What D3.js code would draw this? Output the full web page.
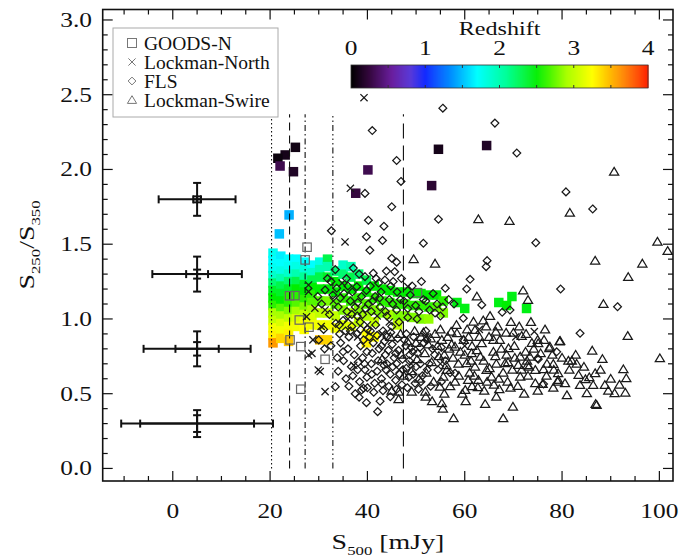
<!DOCTYPE html>
<html><head><meta charset="utf-8">
<script src="https://cdn.jsdelivr.net/npm/d3@7"></script>
<style>body{margin:0;background:#fff}svg{display:block}text{font-family:"Liberation Serif","DejaVu Serif",serif;fill:#111}</style>
</head><body><svg id="c" width="681" height="558"></svg>
<script>
// ---------- data ----------
const xTicks=[0,20,40,60,80,100];
const yTicks=[0,0.5,1.0,1.5,2.0,2.5,3.0];
const zTicks=[0,1,2,3,4];
const legendLabels=["GOODS-N","Lockman-North","FLS","Lockman-Swire"];
const refLines=[20.3,24.0,27.2,32.9,47.4];
const refTop=2.37;
const errX=[5,5,5,5];
const errY=[1.8,1.3,0.8,0.3];
const errOuterX=[7.9,9.2,11.0,15.6];
const errInnerX=[0.8,2.25,4.45,11.7];
const errOuterY=[0.11,0.117,0.117,0.09];
const errInnerY=[0.02,0.03,0.045,0.056];
const zStops=[0,0.25,0.55,0.8,1.0,1.35,1.7,2.1,2.5,2.9,3.25,3.6,4.0];
const zColors=["#000000","#36083f","#6a1f9e","#5a3ad8","#0a22ff","#0090ff","#00ffff","#00ff96","#00ee00","#a8ff00","#ffff00","#ff9a00","#ff2000"];
// GOODS-N with redshift [S500, ratio, z]
const goodsZ=[
[25.2,2.148,0.08],[23.1,2.097,0.1],[21.6,2.075,0.05],[22.05,2.023,0.3],[24.8,1.985,0.15],[40.1,1.997,0.3],[37.6,1.841,0.25],[54.6,2.135,0.1],[64.5,2.16,0.15],[53.2,1.892,0.2],
[23.9,1.696,1.45],[21.9,1.569,1.5],
[20.6,1.44,1.75],[20.6,1.39,1.7],[20.6,1.34,1.75],[20.6,1.29,1.9],[20.6,1.24,2.2],[20.6,1.19,2.4],[20.6,1.14,2.5],[20.6,1.09,2.6],[20.6,1.04,2.9],[20.6,0.99,3.0],[20.6,0.94,3.2],[20.6,0.89,3.3],[20.6,0.84,3.6],
[22.2,1.42,1.65],[22.2,1.37,1.7],[22.2,1.32,1.8],[22.2,1.27,2.0],[22.2,1.22,2.3],[22.2,1.17,2.4],[22.2,1.12,2.5],[22.2,1.07,2.7],[22.2,1.02,2.9],[22.2,0.97,3.1],[22.2,0.92,3.2],[22.2,0.87,3.4],
[23.8,1.40,1.7],[23.8,1.35,1.75],[23.8,1.30,1.9],[23.8,1.25,2.2],[23.8,1.20,2.4],[23.8,1.15,2.6],[23.8,1.10,2.6],[23.8,1.05,2.8],[23.8,1.00,3.0],[23.8,0.95,3.2],[23.8,0.90,3.3],[23.8,0.85,3.45],
[25.4,1.40,1.7],[25.4,1.35,1.8],[25.4,1.30,2.0],[25.4,1.25,2.3],[25.4,1.20,2.5],[25.4,1.15,2.6],[25.4,1.10,2.7],[25.4,1.05,2.9],[25.4,1.00,3.1],[25.4,0.95,3.2],
[27.0,1.38,1.7],[27.0,1.33,1.85],[27.0,1.28,2.1],[27.0,1.23,2.4],[27.0,1.18,2.5],[27.0,1.13,2.6],[27.0,1.08,2.8],[27.0,1.03,3.0],[27.0,0.98,3.2],[27.0,0.93,3.25],
[28.6,1.36,1.7],[28.6,1.31,1.9],[28.6,1.26,2.3],[28.6,1.21,2.5],[28.6,1.16,2.6],[28.6,1.11,2.7],[28.6,1.06,2.9],[28.6,1.01,3.1],[28.6,0.96,3.2],
[30.2,1.38,1.8],[30.2,1.33,2.0],[30.2,1.28,2.3],[30.2,1.20,2.5],[30.2,1.12,2.7],[30.2,1.04,3.0],[30.2,0.96,3.2],[30.2,0.86,3.45],
[31.8,1.40,2.3],[31.8,1.35,2.0],[31.8,1.28,2.4],[31.8,1.20,2.5],[31.8,1.12,2.8],[31.8,1.04,3.0],[31.8,0.96,3.2],[31.8,0.86,3.4],
[33.4,1.32,2.2],[33.4,1.25,2.5],[33.4,1.18,2.5],[33.4,1.10,2.7],[33.4,1.02,3.0],[33.4,0.94,3.2],
[35.0,1.36,1.9],[35.0,1.30,2.2],[35.0,1.22,2.5],[35.0,1.14,2.6],[35.0,1.06,2.8],[35.0,0.96,3.1],
[36.6,1.35,2.0],[36.6,1.28,2.3],[36.6,1.20,2.5],[36.6,1.12,2.6],[36.6,1.04,2.9],[36.6,0.95,3.15],
[38.2,1.30,2.2],[38.2,1.22,2.5],[38.2,1.14,2.6],[38.2,1.06,2.8],[38.2,0.98,3.0],
[39.8,1.26,2.3],[39.8,1.18,2.5],[39.8,1.10,2.7],[39.8,1.02,2.9],[39.8,0.90,3.25],[39.8,0.84,3.3],
[41.4,1.22,2.5],[41.4,1.14,2.6],[41.4,1.06,2.8],[41.4,0.98,3.0],[41.4,0.88,3.25],
[43.0,1.20,2.5],[43.0,1.12,2.6],[43.0,1.04,2.8],
[44.6,1.19,2.5],[44.6,1.11,2.6],[44.6,1.03,2.9],
[46.2,1.18,2.5],[46.2,1.10,2.6],[46.2,1.02,2.8],[46.2,0.96,3.0],
[47.8,1.18,2.5],[47.8,1.10,2.6],[47.8,1.02,2.8],
[49.4,1.17,2.5],[49.4,1.09,2.6],[49.4,1.01,2.8],
[51.0,1.17,2.5],[51.0,1.09,2.6],[51.0,1.00,2.8],
[52.6,1.16,2.5],[52.6,1.08,2.6],[52.6,1.00,2.85],
[54.2,1.16,2.5],[54.2,1.08,2.7],[55.6,1.12,2.6],[55.6,1.04,2.8],
[58.4,1.11,2.45],[60.0,1.07,2.45],[67.0,1.11,2.45],[69.7,1.15,2.45],[68.6,1.09,2.5],[72.7,1.07,2.45]
];
// GOODS-N without redshift (open squares)
const goodsOpen=[[27.6,1.48],[27.2,1.395],[24.0,1.155],[25.1,1.156],[26.0,0.993],[28.0,0.945],[24.1,0.86],[26.3,0.815],[31.3,0.73],[26.3,0.53],[50.3,1.176]];
// Lockman-North (crosses)
const lnCross=[[39.3,2.48],[36.5,1.874],[35.4,1.515],[27.9,1.227],[27.5,1.015],[30.3,0.648],[31.3,0.514],[29.9,0.659],[28.6,0.77],[27.9,0.759],[29.2,1.072],[31.3,1.06],[27.9,1.183],[48.3,1.216],[74.3,0.915],[33.0,1.12],[36.0,1.00],[38.0,0.88],[42.0,1.02],[44.5,0.98],[30.5,0.95],[34.8,1.24],[46.5,0.66],[52.0,0.88],[28.8,0.86],
[40.0,0.96],[43.0,0.90],[37.2,0.69],[49.0,0.70],[55.0,0.70],[60.0,0.82],[63.0,0.93],[70.5,0.88]];
// FLS (diamonds)
const flsDiamond=[
[55.5,2.41],[41.0,2.26],[66.2,2.31],[70.7,2.11],[46.0,2.06],[46.9,1.92],[80.8,1.85],[39.5,1.84],[45.0,1.75],[40.2,1.66],[43.4,1.62],[54.6,1.667],[32.6,1.59],[39.8,1.55],[43.1,1.525],[74.6,1.51],[86.3,1.736],[40.5,1.46],[51.5,1.506],[64.6,1.39],[64.4,1.35],[45.0,1.406],[46.0,1.38],[45.6,1.316],[51.1,1.25],[56.0,1.205],[60.4,1.2],[61.1,1.265],[79.7,1.2],[63.5,1.094],[67.7,1.045],[69.3,1.06],[91.4,1.082],[59.7,1.005],[83.7,0.904],[78.9,0.78],[75.0,0.737],[76.2,0.565],[75.1,0.73],[59.7,0.86],[58.0,0.637],[42.1,0.38],[39.8,0.44],[38.8,0.525],[38.3,0.476],[43.0,0.565],[33.4,0.547],[39.2,0.536],
[33.4,1.33],[37.1,1.34],[39.5,1.283],[41.2,1.306],[43.6,1.26],[42.3,1.24],[45.3,1.25],[33.7,1.205],[31.3,1.194],[37.8,1.216],[41.6,1.15],[35.2,1.17],[36.5,1.12],[38.8,1.15],[40.2,1.10],[42.8,1.18],[44.5,1.13],[34.0,1.08],[35.8,1.05],[37.5,1.08],[39.0,1.03],[40.8,1.05],[42.6,1.08],[44.0,1.02],[46.0,1.06],[47.5,1.12],[48.8,1.16],[49.9,1.09],[51.5,1.13],[52.8,1.06],[54.3,1.10],[30.6,1.10],[32.2,1.03],[33.5,0.97],[35.0,0.99],[36.8,0.95],[38.5,0.98],[40.0,0.93],[41.7,0.96],[43.2,0.92],[45.0,0.95],[46.5,0.98],[48.3,1.01],[50.2,1.00],[31.0,0.93],[34.3,0.90],[36.2,0.88],[29.8,1.15],[32.5,1.25],[35.7,1.27],[38.3,1.30],[40.6,1.22],[43.9,1.32],[47.0,1.27],[49.2,1.22],[53.5,1.17],[55.0,1.02],[56.7,1.13],
[34.5,0.84],[36.0,0.80],[37.3,0.76],[38.6,0.82],[39.9,0.78],[41.2,0.84],[42.4,0.80],[43.7,0.76],[45.1,0.83],[46.4,0.79],[47.6,0.86],[49.0,0.81],[50.3,0.77],[51.6,0.84],[35.1,0.72],[36.7,0.68],[38.1,0.71],[39.5,0.66],[40.8,0.70],[42.0,0.65],[43.4,0.69],[44.7,0.63],[46.0,0.70],[47.3,0.66],[48.6,0.72],[50.0,0.68],[51.3,0.62],[52.7,0.70],[37.0,0.62],[38.4,0.58],[39.9,0.61],[41.5,0.57],[42.9,0.60],[44.4,0.55],[45.8,0.59],[47.1,0.56],[48.5,0.61],[49.8,0.57],[53.8,0.76],[55.2,0.81],[54.5,0.66],[56.0,0.72],[34.0,0.65],[35.6,0.60],[40.4,0.88],[44.0,0.88],[48.0,0.90],[52.0,0.92],[36.5,0.92],[39.0,0.74],[45.5,0.74],[49.5,0.88],
[37.8,0.90],[39.2,0.86],[40.6,0.92],[42.0,0.89],[43.5,0.85],[44.8,0.91],[46.2,0.87],[47.9,0.82],[49.3,0.78],[50.8,0.81],[52.2,0.86],[53.4,0.80],[38.0,0.66],[39.4,0.70],[40.9,0.63],[42.2,0.72],[43.8,0.66],[45.2,0.68],[46.6,0.63],[48.0,0.67],[49.4,0.63],[50.9,0.70],[52.3,0.66],[41.0,0.77],[42.9,0.82],[44.3,0.79],[45.8,0.77],[47.2,0.73],[48.7,0.76],[40.0,0.54],[41.3,0.51],[43.2,0.52],[46.0,0.53],[48.2,0.54],[50.5,0.53],[36.2,0.55],[37.5,0.50],[35.0,0.78],[33.8,0.74],[32.5,0.82],[31.2,0.80],[30.0,0.86],[34.2,0.96],[35.5,0.92],[37.9,1.02],[39.6,1.07],[41.1,1.12],[42.5,1.14],[43.7,1.05],[45.2,1.10],[46.8,1.13],[48.3,1.07],[36.9,1.18],[38.0,1.11],[39.8,1.19],[41.8,1.27],[44.8,1.22],[46.1,1.18],[34.4,1.14],[32.9,1.16],[31.8,1.27],[36.0,1.22],[50.6,1.05],[52.0,1.12],[53.9,1.04],[55.5,1.08],[57.8,1.10],[44.0,0.70],[51.0,0.58],[53.0,0.55],[55.2,0.58],[57.0,0.64],[42.6,0.45],[44.7,0.48],[36.8,1.03],[38.6,0.93]
];
// Lockman-Swire (triangles)
const swireTri=[
[90.7,1.985],[81.6,1.71],[62.8,1.667],[69.2,1.655],[99.6,1.517],[101.7,1.455],[86.8,1.39],[96.5,1.37],[93.6,1.28],[49.5,1.40],[53.9,1.37],[88.5,1.10],[73.0,1.127],[72.0,1.19],[62.5,1.15],[65.2,1.02],[93.5,0.886],[79.6,0.853],[86.2,0.788],[88.3,0.732],[100.1,0.737],[82.0,0.721],[81.3,0.721],[92.6,0.663],[93.2,0.603],[86.8,0.637],[83.4,0.625],[84.8,0.597],[79.2,0.637],[79.2,0.592],[80.6,0.57],[83.7,0.558],[86.4,0.558],[88.8,0.558],[85.1,0.503],[81.0,0.49],[87.1,0.425],[90.8,0.503],[93.0,0.507],[76.2,0.663],[74.5,0.57],[74.5,0.659],[73.2,0.68],[77.5,0.815],[73.4,0.748],[75.0,0.86],[57.7,0.336],[67.9,0.336],[55.5,0.40],[69.9,0.413],[64.2,0.431],[46.4,0.463],[46.4,0.514],[51.9,0.514],[49.1,0.514],[54.9,0.547],[60.1,0.525],[62.7,0.543],[67.1,0.53],[70.9,0.552],[76.0,0.565],[79.1,0.58],[78.2,0.699],[71.4,0.748],[71.0,0.692],[67.9,0.641],[71.4,0.614],[65.9,0.86],[63.5,0.837],[66.4,0.915],[65.9,0.78],[69.0,0.804],[71.7,0.886],[72.6,0.90],[75.1,0.837],[77.4,0.804],[68.3,0.704],[63.2,0.748],[61.4,0.77],[60.4,0.704],[62.1,0.681],[64.5,0.659],[65.5,0.614],[62.8,0.592],[60.7,0.592],[55.6,0.614],[56.3,0.659],[58.0,0.815],[58.4,0.904],[62.1,0.926],[57.2,0.915],[61.8,0.982],[70.0,0.908],[68.5,0.908],[76.3,0.86],[79.5,0.85],[55.3,0.436],[86.9,0.431],
[46.8,0.90],[48.2,0.85],[49.7,0.92],[51.0,0.88],[52.5,0.83],[53.9,0.90],[55.3,0.86],[56.8,0.80],[50.2,0.73],[51.8,0.77],[53.2,0.71],[54.7,0.75],[56.2,0.69],[57.6,0.74],[59.1,0.78],[49.0,0.65],[50.6,0.60],[52.1,0.64],[53.6,0.58],[58.8,0.62],[59.8,0.86],[60.5,0.93],[61.5,0.82],[63.0,0.88],[64.4,0.95],[67.2,0.86],[68.6,0.76],[70.2,0.82],[72.5,0.78],[73.8,0.84],[66.5,0.70],[69.8,0.66],[72.8,0.72],[57.0,0.55],[59.5,0.50],[64.0,0.52],[66.0,0.56],[68.8,0.58],[73.0,0.62],[76.8,0.62],[78.0,0.76],[82.8,0.76],[84.5,0.68],[90.0,0.60],[44.7,0.88],[43.0,0.73],[47.5,0.62],[45.0,0.52],[60.2,0.45],[52.0,0.48],[47.0,0.76],[55.0,0.93],[65.0,0.88],[61.0,0.64],
[50.0,0.84],[51.5,0.91],[53.0,0.87],[54.4,0.82],[55.8,0.76],[57.3,0.83],[58.7,0.70],[60.0,0.76],[61.3,0.72],[62.5,0.79],[63.9,0.72],[65.1,0.67],[66.3,0.75],[67.5,0.80],[68.9,0.71],[70.3,0.74],[71.7,0.66],[72.9,0.69],[74.2,0.80],[75.6,0.77],[76.9,0.70],[78.3,0.66],[80.0,0.74],[81.5,0.66],[83.0,0.70],[85.6,0.61],[87.9,0.66],[89.5,0.52],[91.8,0.56],[56.5,0.88],[58.3,0.96],[60.8,0.88],[63.8,0.99],[66.8,0.95],[69.5,0.98],[71.2,0.95],[73.6,0.98],[76.5,0.93],[62.0,0.62],[64.6,0.58],[67.0,0.60],[69.4,0.54],[72.2,0.50],[75.0,0.52],[78.2,0.54],[58.0,0.58],[55.8,0.50],[53.3,0.45],[61.5,0.55],[66.5,0.48]
];

// ---------- drawing ----------
const svg=d3.select("#c");
const L=102.7,R=673,T=9.5,B=481;
const x=d3.scaleLinear().domain([-14.4,102.8]).range([L,R]);
const y=d3.scaleLinear().domain([-0.084,3.07]).range([B,T]);
const zc=d3.scaleLinear().domain(zStops).range(zColors).clamp(true);
const zx=d3.scaleLinear().domain([0,4]).range([351,648]);
const SX=1.27;

function stxt(g,px,py,parts,size,anchor,rot){
  const gg=g.append("g").attr("transform",`translate(${px},${py})`+(rot?` rotate(${rot})`:"")+` scale(${SX},1)`);
  const t=gg.append("text").attr("text-anchor",anchor||"middle").attr("font-size",size);
  parts.forEach(p=>{
    const ts=t.append("tspan").text(p.t);
    if(p.sub){ts.attr("font-size",size*0.6).attr("dy",size*0.25);}
    else if(p.back){ts.attr("dy",-size*0.25);}
  });
  return gg;
}

const plot=svg.append("g");
plot.append("clipPath").attr("id","clip").append("rect").attr("x",L).attr("y",T).attr("width",R-L).attr("height",B-T);

// coloured squares
const sq=9.5;
plot.append("g").attr("clip-path","url(#clip)").selectAll("rect").data(goodsZ).join("rect")
  .attr("x",d=>x(d[0])-sq/2).attr("y",d=>y(d[1])-sq/2).attr("width",sq).attr("height",sq)
  .attr("fill",d=>zc(d[2]));

// reference vertical lines
const dashes=["1.5,2.5","8,5","6,3,1.5,3","6,3,1.5,3,1.5,3,1.5,3","15,7"];
plot.append("g").selectAll("line").data(refLines).join("line")
  .attr("x1",d=>x(d)).attr("x2",d=>x(d)).attr("y1",y(0)).attr("y2",y(refTop))
  .attr("stroke","#111").attr("stroke-width",1.1).attr("stroke-dasharray",(d,i)=>dashes[i]);

// open squares
plot.append("g").selectAll("rect").data(goodsOpen).join("rect")
  .attr("x",d=>x(d[0])-4.2).attr("y",d=>y(d[1])-4.2).attr("width",8.4).attr("height",8.4)
  .attr("fill","none").attr("stroke","#666").attr("stroke-width",1.2);

const symG=plot.append("g").attr("clip-path","url(#clip)").attr("fill","none").attr("stroke","#1a1a1a").attr("stroke-width",1.25);
const diamondP="M0,-3.9L3.9,0L0,3.9L-3.9,0Z";
const triP="M0,-4.3L4.6,3.4L-4.6,3.4Z";
const crossP="M-3.6,-3.6L3.6,3.6M-3.6,3.6L3.6,-3.6";
symG.selectAll(".dm").data(flsDiamond).join("path").attr("class","dm").attr("d",diamondP)
  .attr("transform",d=>`translate(${x(d[0])},${y(d[1])})`);
symG.selectAll(".tr").data(swireTri).join("path").attr("class","tr").attr("d",triP)
  .attr("transform",d=>`translate(${x(d[0])},${y(d[1])})`);
symG.selectAll(".cr").data(lnCross).join("path").attr("class","cr").attr("d",crossP)
  .attr("transform",d=>`translate(${x(d[0])},${y(d[1])})`);

// error bars
const eb=plot.append("g").attr("stroke","#111").attr("stroke-width",2);
errY.forEach((cy,i)=>{
  const cx=errX[i];
  const X=x(cx),Y=y(cy);
  [errOuterX[i],errInnerX[i]].forEach(e=>{
    eb.append("line").attr("x1",x(cx-e)).attr("x2",x(cx+e)).attr("y1",Y).attr("y2",Y);
    [cx-e,cx+e].forEach(v=>eb.append("line").attr("x1",x(v)).attr("x2",x(v)).attr("y1",Y-4).attr("y2",Y+4));
  });
  [errOuterY[i],errInnerY[i]].forEach(e=>{
    eb.append("line").attr("x1",X).attr("x2",X).attr("y1",y(cy-e)).attr("y2",y(cy+e));
    [cy-e,cy+e].forEach(v=>eb.append("line").attr("x1",X-4).attr("x2",X+4).attr("y1",y(v)).attr("y2",y(v)));
  });
});

// frame & ticks
const ax=svg.append("g").attr("stroke","#111");
ax.append("rect").attr("x",L).attr("y",T).attr("width",R-L).attr("height",B-T).attr("fill","none").attr("stroke-width",1.6);
const xMinor=d3.range(-10,101,5);
xMinor.forEach(v=>{
  const major=xTicks.includes(v);const len=major?10:5;
  ax.append("line").attr("x1",x(v)).attr("x2",x(v)).attr("y1",B).attr("y2",B-len).attr("stroke-width",1.2);
  ax.append("line").attr("x1",x(v)).attr("x2",x(v)).attr("y1",T).attr("y2",T+len).attr("stroke-width",1.2);
});
const yMinor=d3.range(0,31).map(i=>i/10);
yMinor.forEach((v,i)=>{
  const major=i%5===0;const len=major?10:5;
  ax.append("line").attr("y1",y(v)).attr("y2",y(v)).attr("x1",L).attr("x2",L+len).attr("stroke-width",1.2);
  ax.append("line").attr("y1",y(v)).attr("y2",y(v)).attr("x1",R).attr("x2",R-len).attr("stroke-width",1.2);
});
// tick labels
xTicks.forEach(v=>stxt(svg,x(v),518,[{t:String(v)}],20,"middle"));
yTicks.forEach(v=>stxt(svg,92,y(v)+7,[{t:v.toFixed(1)}],20,"end"));
// axis titles
stxt(svg,388,549,[{t:"S"},{t:"500",sub:true},{t:" [mJy]",back:true}],22,"middle");
stxt(svg,34,245,[{t:"S"},{t:"250",sub:true},{t:"/S",back:true},{t:"350",sub:true}],22,"middle",-90);

// colour bar
const cb=svg.append("g");
const nSteps=300;
cb.selectAll("rect").data(d3.range(nSteps)).join("rect")
  .attr("x",i=>zx(i*4/nSteps)).attr("y",65).attr("width",(zx(4)-zx(0))/nSteps+0.6).attr("height",23)
  .attr("fill",i=>zc((i+0.5)*4/nSteps));
cb.append("rect").attr("x",zx(0)).attr("y",65).attr("width",zx(4)-zx(0)).attr("height",23).attr("fill","none").attr("stroke","#333").attr("stroke-width",0.8);
d3.range(0.5,4,0.5).forEach(v=>{
  cb.append("line").attr("x1",zx(v)).attr("x2",zx(v)).attr("y1",65).attr("y2",68).attr("stroke","#333");
  cb.append("line").attr("x1",zx(v)).attr("x2",zx(v)).attr("y1",88).attr("y2",85).attr("stroke","#333");
});
zTicks.forEach(v=>stxt(svg,zx(v),55,[{t:String(v)}],20,"middle"));
stxt(svg,zx(2),35,[{t:"Redshift"}],19,"middle");

// legend
const lg=svg.append("g");
lg.append("rect").attr("x",113).attr("y",28).attr("width",165).attr("height",89).attr("fill","#fff").attr("stroke","#aaa").attr("stroke-width",1);
const lgY=[43,62,81,100];
const lgSym=[null,crossP,diamondP,triP];
legendLabels.forEach((s,i)=>{
  if(i===0) lg.append("rect").attr("x",127.5).attr("y",lgY[i]-4.5).attr("width",9).attr("height",9).attr("fill","none").attr("stroke","#777").attr("stroke-width",1);
  else lg.append("path").attr("d",lgSym[i]).attr("transform",`translate(132,${lgY[i]})`).attr("fill","none").attr("stroke","#777").attr("stroke-width",1);
  lg.append("text").attr("x",144).attr("y",lgY[i]+6.5).attr("font-size",19.5).attr("fill","#333").text(s);
});
</script></body></html>
